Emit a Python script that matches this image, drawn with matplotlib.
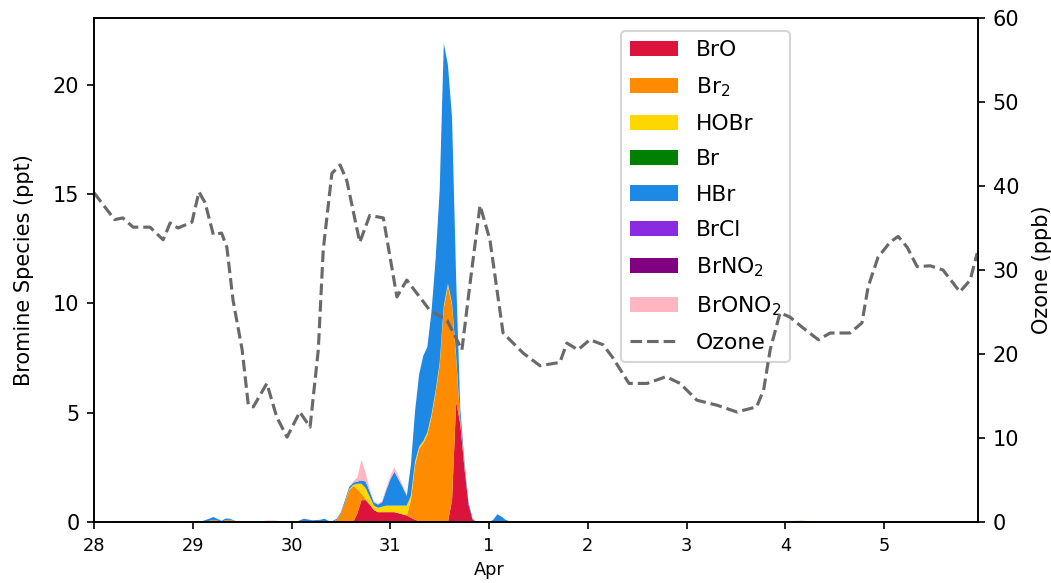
import numpy as np
import matplotlib
matplotlib.use("Agg")
import matplotlib.pyplot as plt

# ---------------- data ----------------
start = np.datetime64("2023-03-28T00:00")

# hours since Mar 28 00:00 for bromine species samples
br_hours = [0, 10, 12, 14, 20, 26, 28, 29, 31, 32, 33, 35, 40, 42, 44, 46, 49, 51, 53, 55, 56, 57,
            58, 59, 60, 61, 62, 63, 64, 65, 66, 67, 68, 69, 70, 71, 72, 73, 74, 75, 76,
            77, 78, 79, 80, 81, 82, 83, 84, 85, 86, 87, 88, 89, 90, 91, 92, 93,
            96, 97, 98, 99, 100, 101, 103, 166, 170, 172, 174, 178, 192, 196, 204, 212, 215]

BrO = [0, 0, 0, 0, 0, 0, 0, 0, 0, 0, 0, 0, 0, 0, 0, 0, 0, 0, 0, 0, 0, 0,
       0, 0, 0, 0, 0, 0, 0.4, 1.0, 1.0, 0.8, 0.55, 0.45, 0.45, 0.45, 0.45, 0.45, 0.4, 0.35, 0.3,
       0.2, 0.1, 0.05, 0, 0, 0, 0, 0, 0, 0, 1.0, 5.5, 4.5, 2.5, 0.8, 0.1, 0,
       0, 0, 0, 0, 0, 0, 0, 0, 0, 0, 0, 0, 0, 0, 0, 0, 0]
Br2 = [0, 0.03, 0.04, 0.03, 0, 0, 0.05, 0.1, 0.02, 0.08, 0.1, 0, 0, 0.04, 0.05, 0, 0, 0, 0, 0, 0, 0,
       0.02, 0.1, 0.4, 0.9, 1.45, 1.65, 1.1, 0.3, 0.05, 0, 0, 0, 0, 0, 0, 0, 0, 0, 0,
       0.8, 2.5, 3.3, 3.6, 4.0, 4.8, 5.9, 7.2, 9.8, 10.8, 8.9, 2.0, 0.1, 0, 0, 0, 0,
       0, 0, 0, 0, 0, 0, 0, 0, 0.05, 0.06, 0.03, 0, 0, 0.03, 0.03, 0.04, 0.02]
HOBr = [0, 0, 0, 0, 0, 0, 0, 0, 0, 0, 0, 0, 0, 0, 0, 0, 0, 0, 0, 0, 0, 0,
        0, 0, 0, 0, 0.05, 0.05, 0.25, 0.45, 0.5, 0.35, 0.2, 0.2, 0.25, 0.3, 0.3, 0.3, 0.35, 0.4, 0.45,
        0.2, 0.15, 0.1, 0.1, 0.1, 0.1, 0.1, 0.1, 0.1, 0.1, 0.1, 0.1, 0.1, 0.1, 0, 0, 0,
        0, 0, 0, 0, 0, 0, 0, 0, 0, 0, 0, 0, 0, 0, 0, 0, 0]
Br = [0] * len(br_hours)
HBr = [0, 0, 0, 0, 0, 0.02, 0.1, 0.13, 0.03, 0.08, 0.05, 0, 0.02, 0, 0, 0, 0, 0.15, 0.08, 0.1, 0.15, 0.05,
       0.03, 0.05, 0.05, 0.1, 0.1, 0.1, 0.1, 0.15, 0.3, 0.25, 0.15, 0.15, 0.2, 0.7, 1.2, 1.55, 1.2, 0.85, 0.45,
       1.4, 2.3, 3.3, 3.9, 3.9, 4.7, 6.0, 7.9, 12.0, 10.0, 8.5, 3.5, 0.5, 0.2, 0.1, 0.05, 0,
       0, 0.1, 0.35, 0.25, 0.1, 0.03, 0, 0, 0, 0, 0, 0, 0, 0, 0, 0, 0]
BrCl = [0] * len(br_hours)
BrNO2 = [0] * len(br_hours)
BrONO2 = [0, 0, 0, 0, 0, 0, 0, 0, 0, 0, 0, 0, 0, 0.03, 0.02, 0, 0, 0, 0, 0, 0, 0,
          0, 0, 0, 0, 0, 0.05, 0.2, 0.95, 0.4, 0.1, 0.05, 0.05, 0.05, 0.1, 0.15, 0.2, 0.15, 0.1, 0.05,
          0, 0, 0, 0, 0, 0, 0, 0, 0, 0, 0, 0, 0, 0, 0, 0, 0,
          0, 0, 0, 0, 0, 0, 0, 0, 0, 0, 0, 0, 0, 0, 0, 0, 0]

species = ["BrO", "Br$_2$", "HOBr", "Br", "HBr", "BrCl", "BrNO$_2$", "BrONO$_2$"]
colors = ["#DC143C", "#FF8C00", "#FFD700", "#008000", "#1E88E5", "#8A2BE2", "#800080", "#FFB6C1"]

o3_hours = [0, 5, 7, 9.5, 13.6, 16.8, 18.5, 20.4, 23.8, 25.5, 27, 29, 31, 32.3, 33.8, 36, 37.5, 38.7,
            42, 44.4, 46.9, 50, 52.5, 54.5, 55.7, 57.8, 59.8, 61.4, 64.6, 67, 70.3, 73.6, 76, 81.6,
            85.8, 89.4, 91.4, 93.8, 96.2, 99.4, 104.3, 108.4, 113.2, 114.9, 117.6, 120.5, 123.7, 126,
            130, 134.4, 139, 142.4, 146.5, 151.4, 156.2, 161, 162.7, 164.3, 166.7, 169.1, 172.3, 176,
            178.9, 183.7, 186.6, 188.1, 190.5, 193.4, 195.4, 197.6, 200, 203.2, 206.3, 210.4, 212.9, 214.6]
ozone = [39.2, 36.0, 36.2, 35.1, 35.1, 33.6, 35.6, 35.0, 35.7, 39.3, 38.0, 34.2, 34.4, 32.7, 26.4, 20.5, 13.9, 13.7,
         16.5, 12.5, 10.1, 13.1, 11.3, 20.5, 32.4, 41.5, 42.5, 40.7, 33.3, 36.5, 36.2, 26.8, 28.8, 25.2,
         24.0, 20.5, 28.5, 37.7, 33.6, 22.5, 20.1, 18.6, 19.0, 21.3, 20.5, 21.7, 21.1, 19.6,
         16.5, 16.5, 17.3, 16.5, 14.5, 13.9, 13.1, 13.7, 15.7, 20.5, 24.9, 24.4, 23.1, 21.7,
         22.5, 22.5, 23.7, 28.0, 31.5, 33.3, 34.0, 32.7, 30.4, 30.5, 30.0, 27.4, 28.8, 32.0]

day_labels = ["28", "29", "30", "31", "1\nApr", "2", "3", "4", "5"]

# ---------------- plot ----------------
def to_time(hours):
    return start + (np.array(hours) * 60).astype("timedelta64[m]")

t_br = to_time(br_hours)
t_o3 = to_time(o3_hours)

fig = plt.figure(figsize=(1051 / 150, 583 / 150), dpi=150)
ax = fig.add_axes([94 / 1051, 61 / 583, 884 / 1051, 504 / 583])
ax2 = ax.twinx()

polys = ax.stackplot(t_br, BrO, Br2, HOBr, Br, HBr, BrCl, BrNO2, BrONO2,
                     colors=colors, labels=species)
line, = ax2.plot(t_o3, ozone, linestyle="--", color="dimgray", lw=1.5, label="Ozone")

ax.set_ylim(0, 23.05)
ax2.set_ylim(0, 60)
ax.set_xlim(t_br[0], to_time([214.8])[0])

ticks = to_time([24 * i for i in range(9)])
ax.set_xticks(ticks)
ax.set_xticklabels(day_labels, fontsize=8.5, linespacing=1.45)
ax.set_ylabel("Bromine Species (ppt)", fontsize=10, labelpad=9)
ax2.set_ylabel("Ozone (ppb)", fontsize=10, labelpad=6)
ax.tick_params(axis="y", labelsize=10)
ax2.tick_params(axis="y", labelsize=10)

leg = ax.legend(list(polys) + [line], species + ["Ozone"], loc="upper right",
                bbox_to_anchor=(0.787, 0.974), borderaxespad=0, fontsize=10.5,
                labelspacing=0.7, handlelength=2.2)

fig.savefig("out.png", dpi=150)
